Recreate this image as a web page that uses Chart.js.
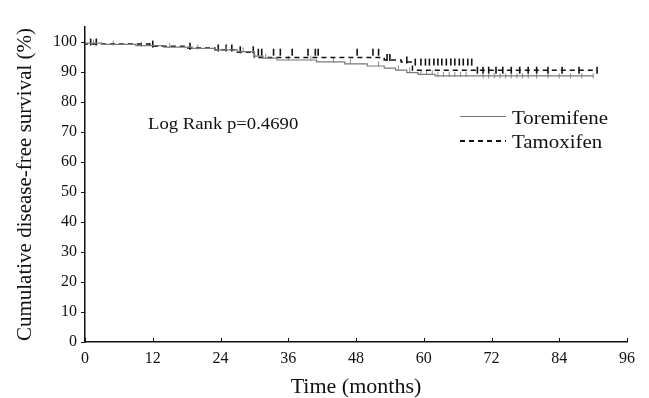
<!DOCTYPE html>
<html><head><meta charset="utf-8">
<script src="https://cdn.jsdelivr.net/npm/chart.js@4"></script>
<style>
html,body{margin:0;padding:0;background:#fff;}
#wrap{position:relative;width:649px;height:398px;overflow:hidden;}
canvas{position:absolute;left:0;top:0;}
.t{position:absolute;font-family:"Liberation Serif","Times New Roman",serif;color:#111;white-space:nowrap;transform-origin:0 50%;transform:scaleX(1.1);line-height:1;}
.ls{position:absolute;height:2px;}
</style></head><body>
<div id="wrap">
<canvas id="c" width="649" height="398"></canvas>
<div class="t" style="left:148px;top:115px;font-size:17px;">Log Rank p=0.4690</div>
<div class="ls" style="left:460px;top:116px;width:46px;height:1px;background:#777;"></div>
<div class="t" style="left:512px;top:108px;font-size:19px;">Toremifene</div>
<div class="ls" style="left:460px;top:140px;width:46px;background:repeating-linear-gradient(90deg,#111 0 5px,transparent 5px 9px);"></div>
<div class="t" style="left:512px;top:132px;font-size:19px;">Tamoxifen</div>
</div>
<script>
// Kaplan-Meier step data (months, % disease-free)
const toremifeneTimes = [0, 3, 9, 14, 19, 23, 27, 30, 31.5, 34, 41, 46, 50, 53, 55, 57, 59, 62, 70, 90];
const toremifeneSurv  = [100, 99.6, 99.2, 98.8, 98.3, 97.9, 97.4, 96.8, 95.3, 94.6, 94.0, 93.4, 92.7, 92.0, 91.3, 90.6, 89.8, 89.2, 88.7, 88.7];
const tamoxifenTimes  = [0, 11.5, 18, 23, 27, 30, 53, 56, 58, 69, 90.7];
const tamoxifenSurv   = [100, 99.3, 98.6, 98.0, 97.4, 96.6, 94.8, 94.0, 93.3, 90.6, 90.6];
// censoring times
const toremifeneCensor = [1.5, 5, 10, 15, 20, 25, 28, 32, 36, 40, 44, 47, 52, 55.5, 57.5, 59.5, 60.5, 61.5, 62.5, 63.5, 64.5, 65.5, 66.5, 67.5, 70.5, 71.5, 72.5, 73.5, 74.5, 75.5, 76.5, 77.5, 78.5, 80, 82, 84, 86, 88, 90];
const tamoxifenCensor  = [1, 2, 12, 18.6, 23.6, 25, 26, 27.5, 29.8, 30.7, 31.3, 33.4, 34.6, 36.7, 39.5, 40.8, 41.3, 48.2, 51, 52, 53.5, 54, 57, 58.5, 59.5, 60.3, 61, 61.8, 62.5, 63.2, 64, 64.8, 65.5, 66.3, 67, 67.8, 68.5, 69.5, 70.5, 71.5, 72.8, 74, 75.5, 77, 78.5, 80, 82, 84.5, 87.5, 90.7];
const xTickStep = 12, xMax = 96;
const yTickValues = [0, 10, 20, 30, 40, 50, 60, 70, 80, 90, 100];
const xTitle = 'Time (months)';
const yTitle = 'Cumulative disease-free survival (%)';

function pts(t, s){ return t.map((x,i)=>({x, y:s[i]})); }
function survAt(t, s, time){ let v = s[0]; for (let i=0;i<t.length;i++){ if (t[i] <= time) v = s[i]; } return v; }
function censorPts(c, t, s){ return c.map(x=>({x, y:survAt(t,s,x)})); }

const serif = '"Liberation Serif","Times New Roman",serif';

const inwardTicks = {
  id:'inwardTicks',
  afterDatasetsDraw(chart){
    const sx = chart.scales.x, ctx = chart.ctx, b = sx.top;
    ctx.save(); ctx.strokeStyle='#111'; ctx.lineWidth=1;
    sx.ticks.forEach(tk=>{ const px = Math.round(sx.getPixelForValue(tk.value))+0.5; ctx.beginPath(); ctx.moveTo(px,b); ctx.lineTo(px,b-4); ctx.stroke(); });
    ctx.restore();
  }
};

new Chart(document.getElementById('c'), {
  type:'line',
  data:{ datasets:[
    { label:'Toremifene', data:pts(toremifeneTimes,toremifeneSurv), stepped:'after', borderColor:'#7a7a7a', borderWidth:1.2, pointRadius:0, fill:false },
    { label:'Tamoxifen', data:pts(tamoxifenTimes,tamoxifenSurv), stepped:'after', borderColor:'#111', borderWidth:1.5, borderDash:[5,4], pointRadius:0, fill:false },
    { label:'Toremifene censored', type:'scatter', data:censorPts(toremifeneCensor,toremifeneTimes,toremifeneSurv), pointStyle:'line', rotation:90, radius:2.5, borderColor:'#888', borderWidth:1, showLine:false },
    { label:'Tamoxifen censored', type:'scatter', data:censorPts(tamoxifenCensor,tamoxifenTimes,tamoxifenSurv), pointStyle:'line', rotation:90, radius:3.5, borderColor:'#111', borderWidth:1.6, showLine:false }
  ]},
  options:{
    responsive:false, animation:false, devicePixelRatio:1,
    layout:{ padding:{ top:27, right:22, left:0, bottom:0 } },
    plugins:{ legend:{display:false}, tooltip:{enabled:false} },
    scales:{
      x:{ type:'linear', min:0, max:xMax,
        afterFit(s){ s.height = 56; },
        ticks:{ stepSize:xTickStep, color:'#111', padding:7, maxRotation:0, font:{family:serif, size:16} },
        grid:{ display:true, drawOnChartArea:false, drawTicks:false },
        border:{ display:true, color:'#111', width:1.5 },
        title:{ display:true, text:xTitle, color:'#111', font:{family:serif, size:22, lineHeight:1}, padding:{top:0,bottom:0} }
      },
      y:{ type:'linear', min:0, max:105,
        afterFit(s){ s.width = 85; },
        afterBuildTicks(s){ s.ticks = yTickValues.map(v=>({value:v})); },
        ticks:{ color:'#111', padding:4, font:{family:serif, size:16} },
        grid:{ display:true, drawOnChartArea:false, drawTicks:true, tickLength:4, color:'#111' },
        border:{ display:true, color:'#111', width:1.5 },
        title:{ display:true, text:yTitle, color:'#111', font:{family:serif, size:21}, padding:{top:13,bottom:0} }
      }
    }
  },
  plugins:[inwardTicks]
});
</script>
</body></html>
